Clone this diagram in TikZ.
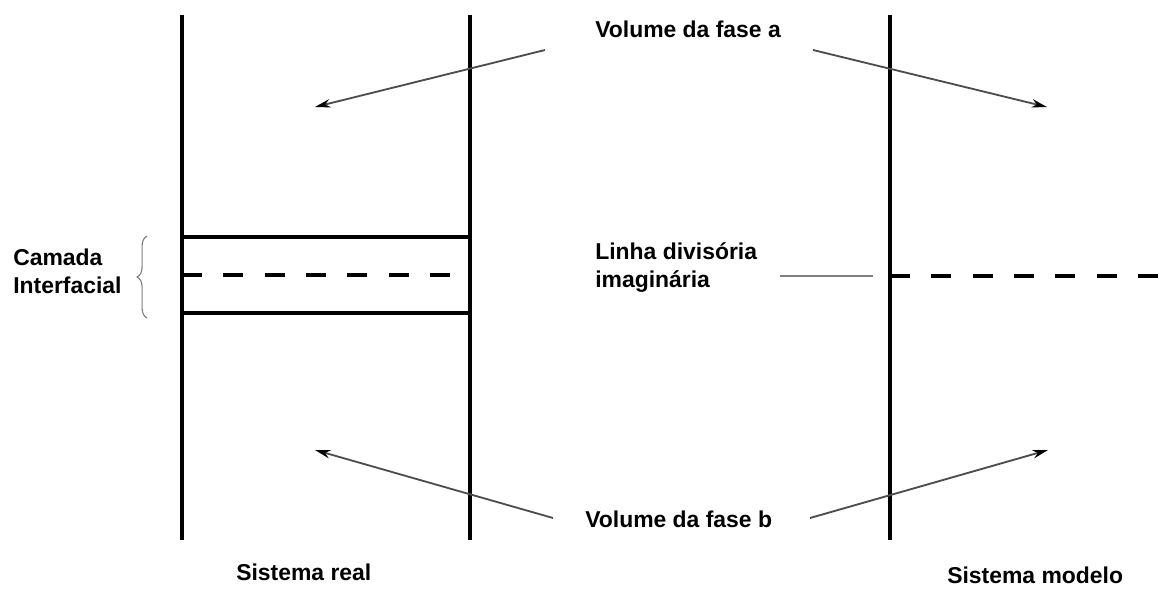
\documentclass[tikz,border=0pt]{standalone}
\usepackage{fontspec}
\setmainfont{Liberation Sans}
\usetikzlibrary{arrows.meta,positioning,decorations.pathreplacing}

\begin{document}
\begin{tikzpicture}[
    x=0.025cm, y=-0.025cm,
    wallline/.style={line width=3.2pt},
    filmline/.style={line width=2.6pt},
    dashline/.style={line width=3pt,dash pattern=on 14.2pt off 15.2pt},
    arrowline/.style={-{Stealth[length=11pt,width=6pt,black]},line width=1.3pt,black!70},
    txt/.style={font=\fontsize{16.3}{19.9}\selectfont\bfseries,align=left,inner sep=0pt}
]
\useasboundingbox (0,0) rectangle (1174,588);

% Walls of the two systems
\draw[wallline] (182,15) -- (182,540);
\draw[wallline] (470,15) -- (470,540);
\draw[wallline] (890,15) -- (890,540);

% Interfacial layer
\draw[filmline] (182,237) -- (470,237);
\draw[filmline] (182,313) -- (470,313);
\draw[dashline] (182,275) -- (452,275);
\draw[dashline] (890,276) -- (1160,276);

% Labels
\node[txt,anchor=base west] (vola) at (595,37) {Volume da fase a};
\node[txt,anchor=base west] (volb) at (585,527) {Volume da fase b};
\node[txt,anchor=base west] (linha) at (595,287) {Linha divisória\\imaginária};
\node[txt,anchor=base west] (camada) at (13,293) {Camada\\Interfacial};
\node[txt,anchor=base west] (sreal) at (236,580) {Sistema real};
\node[txt,anchor=base west] (smodelo) at (947,583) {Sistema modelo};

% Arrow ends
\coordinate (a1) at (545,50);
\coordinate (a2) at (813,50);
\coordinate (b1) at (553,518);
\coordinate (b2) at (810,518);
\coordinate (ha1) at (315,107);
\coordinate (ha2) at (1047,107);
\coordinate (hb1) at (315,450);
\coordinate (hb2) at (1048,450);
\coordinate (l1) at (780,276);
\coordinate (l2) at (873,276);

% Arrows
\draw[arrowline] (a1) -- (ha1);
\draw[arrowline] (a2) -- (ha2);
\draw[arrowline] (b1) -- (hb1);
\draw[arrowline] (b2) -- (hb2);
\draw[gray,line width=1.4pt] (l1) -- (l2);

% Brace
\draw[decorate,decoration={brace,amplitude=7pt},gray,line width=0.8pt] (147,318) -- (147,236);

\end{tikzpicture}
\end{document}
